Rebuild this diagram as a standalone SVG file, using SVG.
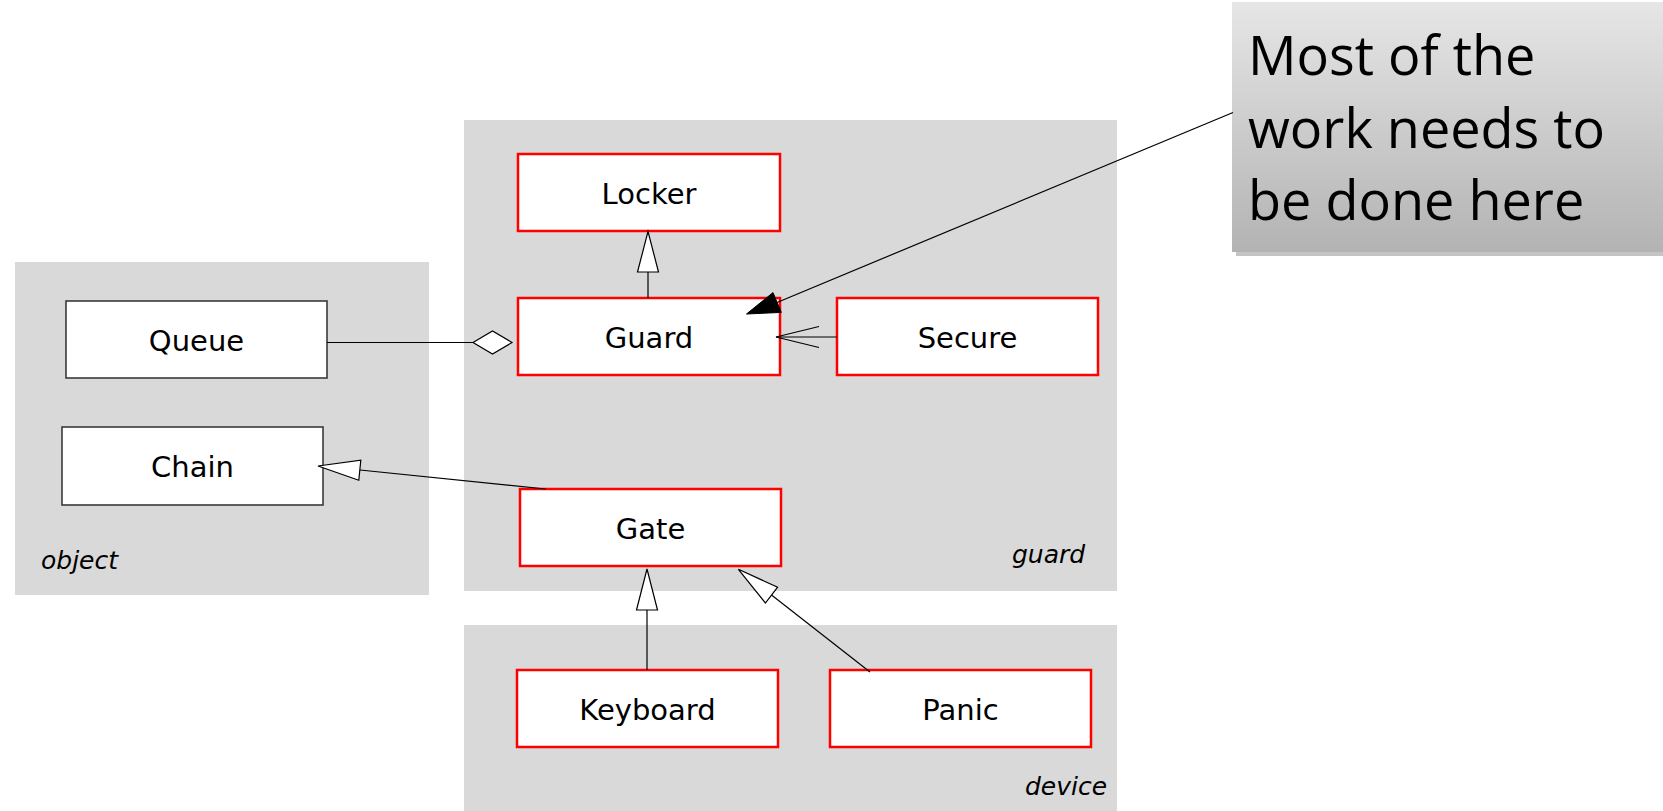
<svg xmlns="http://www.w3.org/2000/svg" width="1663" height="811" viewBox="0 0 1663 811">
<defs>
<linearGradient id="noteGrad" x1="0" y1="0" x2="0" y2="1">
<stop offset="0" stop-color="#e6e6e6"/>
<stop offset="1" stop-color="#b3b3b3"/>
</linearGradient>
</defs>
<style>
.pkg{fill:#d9d9d9;stroke:none}
.pkglabel{font-family:"DejaVu Sans",sans-serif;font-style:italic;font-size:25px;fill:#000}
.cls{fill:#fff;stroke:#ff0000;stroke-width:2.5}
.ext{fill:#fff;stroke:#3a3a3a;stroke-width:1.6}
.lbl{font-family:"DejaVu Sans",sans-serif;font-size:29px;fill:#000;text-anchor:middle}
.edge{fill:none;stroke:#000;stroke-width:1.2}
.hollow{fill:#fff;stroke:#000;stroke-width:1.2}
.filled{fill:#000;stroke:#000;stroke-width:1}
.notetxt{font-family:"Open Sans","Noto Sans",sans-serif;font-size:54px;fill:#000}
</style>
<g id="pkg-object">
<rect class="pkg" x="15" y="262" width="414" height="333"/>
<text class="pkglabel" x="41" y="568.5">object</text>
</g>
<g id="pkg-guard">
<rect class="pkg" x="464" y="120" width="653" height="471"/>
<text class="pkglabel" x="1012" y="562.5">guard</text>
</g>
<g id="pkg-device">
<rect class="pkg" x="464" y="625" width="653" height="190"/>
<text class="pkglabel" x="1025" y="794.5">device</text>
</g>
<g id="Queue">
<rect class="ext" x="66" y="301" width="261" height="77"/>
<text class="lbl" x="196.5" y="350.5">Queue</text>
</g>
<g id="Chain">
<rect class="ext" x="62" y="427" width="261" height="78"/>
<text class="lbl" x="192.5" y="477">Chain</text>
</g>
<g id="Locker">
<rect class="cls" x="518" y="154" width="262" height="77"/>
<text class="lbl" x="649" y="203.5">Locker</text>
</g>
<g id="Guard">
<rect class="cls" x="518" y="298" width="262" height="77"/>
<text class="lbl" x="649" y="347.5">Guard</text>
</g>
<g id="Secure">
<rect class="cls" x="837" y="298" width="261" height="77"/>
<text class="lbl" x="967.5" y="347.5">Secure</text>
</g>
<g id="Gate">
<rect class="cls" x="520" y="489" width="261" height="77"/>
<text class="lbl" x="650.5" y="538.5">Gate</text>
</g>
<g id="Keyboard">
<rect class="cls" x="517" y="670" width="261" height="77"/>
<text class="lbl" x="647.5" y="719.5">Keyboard</text>
</g>
<g id="Panic">
<rect class="cls" x="830" y="670" width="261" height="77"/>
<text class="lbl" x="960.5" y="719.5">Panic</text>
</g>
<g id="Note">
<rect x="1236" y="6" width="440" height="250" fill="#c4c4c4"/>
<rect x="1232" y="2" width="440" height="250" fill="url(#noteGrad)"/>
<text class="notetxt" x="1248" y="75">Most of the</text>
<text class="notetxt" x="1248" y="148">work needs to</text>
<text class="notetxt" x="1248" y="220">be done here</text>
</g>
<g id="connectors">
<line class="edge" x1="648" y1="298" x2="648" y2="272"/>
<polygon class="hollow" points="648,231.5 637.5,272 658.5,272"/>
<line class="edge" x1="327" y1="342.5" x2="473" y2="342.5"/>
<polygon class="hollow" points="473,342.5 492.5,331 512,342.5 492.5,354"/>
<line class="edge" x1="837" y1="337" x2="776" y2="337"/>
<polyline class="edge" points="819,326.5 776,337 819,347.5"/>
<line class="edge" x1="546" y1="489" x2="360" y2="470"/>
<polygon class="hollow" points="318,466 360.8,460.2 358.8,480.2"/>
<line class="edge" x1="647" y1="670" x2="647" y2="610"/>
<polygon class="hollow" points="647,569 636.5,610 657.5,610"/>
<line class="edge" x1="870" y1="672" x2="771.5" y2="595"/>
<polygon class="hollow" points="738.4,569.3 777.6,587.2 765.4,603"/>
<line class="edge" x1="1233" y1="112.5" x2="777" y2="302.5"/>
<polygon class="filled" points="746.5,314 773,292.6 781.3,312.4"/>
</g>
</svg>
